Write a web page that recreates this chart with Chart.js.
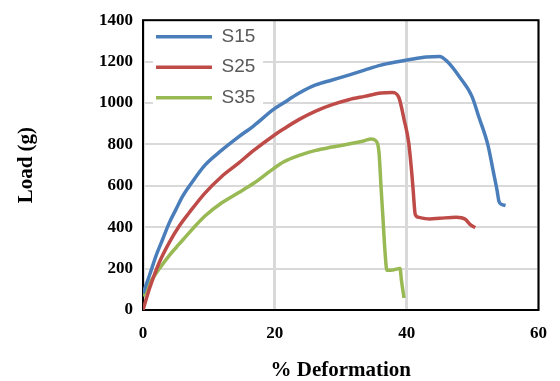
<!DOCTYPE html>
<html>
<head>
<meta charset="utf-8">
<script src="https://cdn.jsdelivr.net/npm/chart.js@4"></script>
<style>
  body { margin: 0; background: #fff; }
  canvas { display: block; }
</style>
</head>
<body>
<canvas id="chart" width="560" height="381"></canvas>
<script>
// values (% deformation vs load in g)
const s15X = [0, 1.0, 2.0, 3.0, 4.0, 5.0, 6.0, 7.5, 9.4, 11.9, 14.4, 16.8, 19.8, 21.3, 23.7, 26.2, 28.7, 31.2, 33.6, 36.1, 38.6, 40.5, 43.0, 45.0, 46.2, 48.0, 49.9, 50.9, 52.3, 53.2, 53.7, 54.0, 54.4, 55.0];
const s15Y = [80, 169, 264, 343, 422, 486, 549, 620, 700, 771, 834, 890, 969, 1000, 1048, 1087, 1111, 1135, 1159, 1183, 1199, 1210, 1222, 1225, 1199, 1127, 1032, 937, 800, 660, 580, 525, 510, 505];

const s25X = [0, 1.0, 2.5, 4.0, 5.5, 7.0, 9.4, 11.9, 14.4, 16.8, 19.8, 21.3, 23.7, 26.2, 28.7, 31.2, 33.6, 36.1, 37.8, 38.8, 39.6, 40.3, 40.8, 41.0, 41.3, 41.8, 43.5, 45.0, 47.5, 48.9, 49.7, 50.4];
const s25Y = [0, 105, 232, 327, 406, 470, 565, 644, 707, 771, 842, 874, 921, 961, 992, 1016, 1032, 1048, 1051, 1028, 921, 810, 652, 573, 462, 448, 440, 443, 448, 438, 411, 398];

const s35X = [0, 1.0, 2.5, 4.0, 5.5, 7.5, 9.4, 11.9, 14.4, 16.8, 19.8, 21.3, 23.7, 26.2, 28.7, 31.2, 33.6, 34.6, 35.3, 35.8, 36.1, 36.4, 36.7, 37.0, 37.6, 39.0, 39.2, 39.6];
const s35Y = [66, 129, 200, 264, 319, 391, 454, 517, 565, 612, 683, 715, 747, 771, 787, 802, 818, 826, 818, 763, 600, 446, 288, 192, 192, 200, 145, 58];

const seriesNames = ['S15', 'S25', 'S35'];
const seriesColors = ['#4a7ebb', '#be4b48', '#98b954'];

const xTicks = [0, 20, 40, 60];
const yTicks = [0, 200, 400, 600, 800, 1000, 1200, 1400];

function zip(xs, ys) {
  return xs.map((x, i) => ({ x: x, y: ys[i] }));
}

// legend sits inside the plot on a white box, plot gets a black frame
const frameAndLegend = {
  id: 'frameAndLegend',
  afterLayout(chart) {
    const lg = chart.legend;
    lg.top = chart.chartArea.top - 4.5;
    lg.left = chart.chartArea.left + 1.5;
  },
  beforeDatasetsDraw(chart) {
    const ctx = chart.ctx;
    const a = chart.chartArea;
    ctx.save();
    ctx.fillStyle = '#fff';
    ctx.fillRect(a.left + 10, a.top + 1, 110, 93);
    ctx.strokeStyle = '#000';
    ctx.lineWidth = 2;
    ctx.strokeRect(a.left, a.top, a.right - a.left, a.bottom - a.top);
    ctx.restore();
    chart.legend.draw();
  }
};

const ctx = document.getElementById('chart').getContext('2d');
const myChart = new Chart(ctx, {
  type: 'line',
  data: {
    datasets: [
      { label: seriesNames[0], data: zip(s15X, s15Y) },
      { label: seriesNames[1], data: zip(s25X, s25Y) },
      { label: seriesNames[2], data: zip(s35X, s35Y) }
    ].map((d, i) => Object.assign(d, {
      borderColor: seriesColors[i],
      backgroundColor: seriesColors[i],
      borderWidth: 3.5,
      pointRadius: 0,
      cubicInterpolationMode: 'monotone',
      fill: false
    }))
  },
  options: {
    responsive: false,
    animation: false,
    layout: { padding: { left: 16, top: 16, right: 12, bottom: 0 } },
    plugins: {
      tooltip: { enabled: false },
      legend: {
        position: 'chartArea',
        align: 'start',
        labels: {
          boxWidth: 56,
          boxHeight: 0,
          padding: 11.5,
          color: '#595959',
          font: { family: 'Liberation Sans', size: 19 }
        }
      }
    },
    scales: {
      x: {
        type: 'linear',
        min: 0,
        max: 60,
        afterBuildTicks: (s) => { s.ticks = xTicks.map(v => ({ value: v })); },
        ticks: {
          padding: 13,
          color: '#000',
          callback: (v) => String(v),
          font: { family: 'Liberation Serif', size: 17, weight: 'bold' }
        },
        grid: { color: '#d9d9d9', lineWidth: 3, drawTicks: false },
        border: { display: false },
        title: {
          display: true,
          text: '% Deformation',
          color: '#000',
          padding: 0,
          font: { family: 'Liberation Serif', size: 21, weight: 'bold', lineHeight: 1 }
        },
        afterFit: (s) => { s.height = 71; }
      },
      y: {
        min: 0,
        max: 1400,
        afterBuildTicks: (s) => { s.ticks = yTicks.map(v => ({ value: v })); },
        ticks: {
          padding: 10,
          color: '#000',
          callback: (v) => String(v),
          font: { family: 'Liberation Serif', size: 17, weight: 'bold' }
        },
        grid: { color: '#d9d9d9', lineWidth: 2, drawTicks: false },
        border: { display: false },
        title: {
          display: true,
          text: 'Load (g)',
          color: '#000',
          padding: 0,
          font: { family: 'Liberation Serif', size: 21, weight: 'bold', lineHeight: 1 }
        },
        afterFit: (s) => { s.width = 127; }
      }
    }
  },
  plugins: [frameAndLegend]
});
</script>
</body>
</html>
